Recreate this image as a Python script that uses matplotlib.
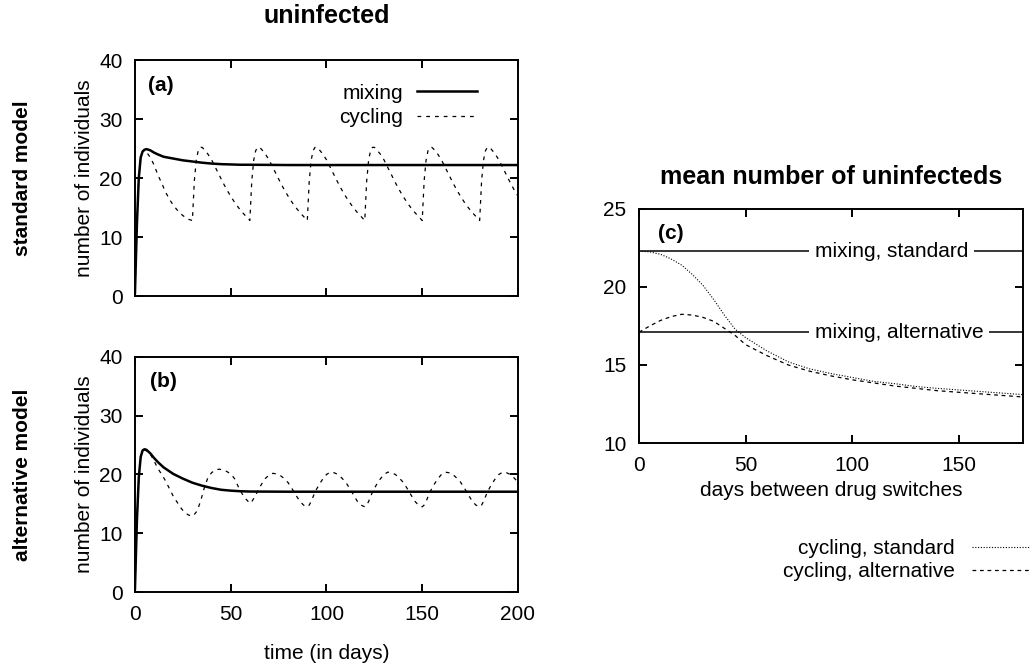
import matplotlib
matplotlib.use('Agg')
import matplotlib.pyplot as plt

plt.rcParams['font.family'] = ['Liberation Sans', 'DejaVu Sans']
plt.rcParams['font.size'] = 15

# --- panels (a)/(b): time courses ---
mix_days = [0, 1, 2, 3, 4, 5, 6, 8, 10, 12, 15, 20, 25, 30, 35, 40, 45, 50,
            55, 60, 80, 100, 150, 200]
mix_std = [0.5, 12.0, 20.0, 23.5, 24.5, 24.8, 24.9, 24.7, 24.3, 24.0, 23.6,
           23.3, 23.0, 22.8, 22.6, 22.45, 22.35, 22.3, 22.25, 22.25, 22.2,
           22.2, 22.2, 22.2]
mix_alt = [0.5, 12.0, 19.5, 23.0, 24.1, 24.3, 24.2, 23.6, 22.8, 22.1, 21.2,
           20.1, 19.3, 18.6, 18.1, 17.7, 17.4, 17.25, 17.15, 17.1, 17.07,
           17.07, 17.07, 17.07]

cyc_days = [0, 1, 2, 3, 4, 5, 6, 8, 10, 12, 14, 16, 18, 20, 22, 24, 26, 28,
            30, 31, 32, 33, 34, 35, 36, 38, 40, 42, 44, 46, 48, 50, 52, 54, 56, 58,
            60, 61, 62, 63, 64, 65, 66, 68, 70, 72, 74, 76, 78, 80, 82, 84, 86, 88,
            90, 91, 92, 93, 94, 95, 96, 98, 100, 102, 104, 106, 108, 110, 112, 114, 116, 118,
            120, 121, 122, 123, 124, 125, 126, 128, 130, 132, 134, 136, 138, 140, 142, 144, 146, 148,
            150, 151, 152, 153, 154, 155, 156, 158, 160, 162, 164, 166, 168, 170, 172, 174, 176, 178,
            180, 181, 182, 183, 184, 185, 186, 188, 190, 192, 194, 196, 198, 200]
cyc_std = [0.5, 12.0, 20.0, 23.5, 24.5, 24.7, 24.4, 23.5, 22.2, 20.5, 19.1, 17.6, 16.4, 15.4, 14.6, 13.9, 13.4, 13.0,
           12.8, 19.5, 23.0, 24.6, 25.2, 25.2, 24.9, 24.1, 23.1, 21.8, 20.5, 19.2, 18.0, 16.9, 15.9, 15.0, 14.2, 13.5,
           12.8, 19.5, 23.0, 24.6, 25.2, 25.2, 24.9, 24.1, 23.1, 21.8, 20.5, 19.2, 18.0, 16.9, 15.9, 15.0, 14.2, 13.5,
           12.8, 19.5, 23.0, 24.6, 25.2, 25.2, 24.9, 24.1, 23.1, 21.8, 20.5, 19.2, 18.0, 16.9, 15.9, 15.0, 14.2, 13.5,
           12.8, 19.5, 23.0, 24.6, 25.2, 25.2, 24.9, 24.1, 23.1, 21.8, 20.5, 19.2, 18.0, 16.9, 15.9, 15.0, 14.2, 13.5,
           12.8, 19.5, 23.0, 24.6, 25.2, 25.2, 24.9, 24.1, 23.1, 21.8, 20.5, 19.2, 18.0, 16.9, 15.9, 15.0, 14.2, 13.5,
           12.8, 19.5, 23.0, 24.6, 25.2, 25.2, 24.9, 24.1, 23.1, 21.8, 20.5, 19.2, 18.0, 16.9]
cyc_alt = [0.5, 12.0, 19.5, 23.0, 24.1, 24.2, 24.0, 23.5, 22.3, 21.0, 20.0, 18.9, 17.6, 16.3, 15.3, 14.3, 13.5, 13.1,
           12.9, 13.2, 13.6, 14.3, 15.2, 16.3, 17.5, 19.4, 20.3, 20.8, 20.9, 20.8, 20.5, 20.1, 19.3, 17.9, 16.7, 15.8,
           15.1, 15.4, 15.9, 16.5, 17.1, 17.7, 18.3, 19.3, 19.9, 20.2, 20.1, 19.8, 19.3, 18.6, 17.6, 16.5, 15.5, 14.8,
           14.5, 14.8, 15.4, 16.2, 17.0, 17.6, 18.2, 19.2, 20.0, 20.4, 20.3, 20.0, 19.4, 18.7, 17.7, 16.6, 15.5, 14.8,
           14.5, 14.8, 15.4, 16.2, 17.0, 17.6, 18.2, 19.2, 20.0, 20.4, 20.3, 20.0, 19.4, 18.7, 17.7, 16.6, 15.5, 14.8,
           14.5, 14.8, 15.4, 16.2, 17.0, 17.6, 18.2, 19.2, 20.0, 20.4, 20.3, 20.0, 19.4, 18.7, 17.7, 16.6, 15.5, 14.8,
           14.5, 14.8, 15.4, 16.2, 17.0, 17.6, 18.2, 19.2, 20.0, 20.4, 20.3, 20.0, 19.4, 18.7]

# --- panel (c): mean number of uninfecteds vs switching period ---
switch_days = [0, 5, 10, 15, 20, 25, 30, 35, 40, 45, 50, 60, 70, 80, 90, 100,
               110, 120, 130, 140, 150, 160, 170, 180]
mean_cyc_std = [22.3, 22.25, 22.1, 21.8, 21.4, 20.8, 20.1, 19.2, 18.2, 17.3,
                16.75, 15.9, 15.2, 14.75, 14.45, 14.2, 13.95, 13.8, 13.62, 13.5,
                13.4, 13.3, 13.2, 13.1]
mean_cyc_alt = [17.1, 17.5, 17.85, 18.1, 18.25, 18.2, 18.05, 17.8, 17.35, 16.9,
                16.3, 15.6, 15.0, 14.6, 14.3, 14.05, 13.85, 13.65, 13.5, 13.35,
                13.25, 13.15, 13.05, 12.95]
mean_mix_std = 22.3
mean_mix_alt = 17.1

fig = plt.figure(figsize=(10.31, 6.70), dpi=100)
ax1 = fig.add_axes([0.1309, 0.5582, 0.3715, 0.3522])
ax2 = fig.add_axes([0.1309, 0.1164, 0.3715, 0.3508])
ax3 = fig.add_axes([0.6198, 0.3388, 0.3725, 0.3493])

for ax in (ax1, ax2, ax3):
    for s in ax.spines.values():
        s.set_linewidth(1.4)
    ax.tick_params(direction='in', length=5.8, width=1.4, top=True, right=True,
                   pad=9, labelsize=15)

dash = (0, (3, 4))

# (a)
ax1.plot(mix_days, mix_std, color='black', lw=1.8, label='mixing')
ax1.plot(cyc_days, cyc_std, color='black', lw=0.9, linestyle=dash, label='cycling')
ax1.set_xlim(0, 200)
ax1.set_ylim(0, 40)
ax1.set_yticks([0, 10, 20, 30, 40])
ax1.set_xticks([0, 50, 100, 150, 200])
ax1.tick_params(labelbottom=False)
ax1.set_ylabel('number of individuals', labelpad=4)
ax1.set_title('uninfected', fontweight='bold', pad=27)
ax1.text(0.033, 0.894, '(a)', transform=ax1.transAxes, fontweight='bold',
         ha='left', va='center')
ax1.legend(loc='upper right', bbox_to_anchor=(477 / 1031, 0.875),
           bbox_transform=fig.transFigure, frameon=False, markerfirst=False,
           handlelength=2.9, handletextpad=0.65, labelspacing=0.25,
           borderpad=0, borderaxespad=0)

# (b)
ax2.plot(mix_days, mix_alt, color='black', lw=1.8)
ax2.plot(cyc_days, cyc_alt, color='black', lw=0.9, linestyle=dash)
ax2.set_xlim(0, 200)
ax2.set_ylim(0, 40)
ax2.set_yticks([0, 10, 20, 30, 40])
ax2.set_xticks([0, 50, 100, 150, 200])
ax2.set_ylabel('number of individuals', labelpad=4)
ax2.set_xlabel('time (in days)', labelpad=15)
ax2.text(0.04, 0.895, '(b)', transform=ax2.transAxes, fontweight='bold',
         ha='left', va='center')

fig.text(0.0223, 0.7343, 'standard model', rotation=90, fontweight='bold',
         ha='center', va='center')
fig.text(0.0223, 0.2918, 'alternative model', rotation=90, fontweight='bold',
         ha='center', va='center')

# (c)
ax3.axhline(mean_mix_std, color='black', lw=1.1)
ax3.axhline(mean_mix_alt, color='black', lw=1.1)
box = dict(facecolor='white', edgecolor='none', pad=4)
ax3.text(82.5, mean_mix_std, 'mixing, standard', ha='left', va='center', bbox=box)
ax3.text(82.5, mean_mix_alt, 'mixing, alternative', ha='left', va='center', bbox=box)
ax3.plot(switch_days, mean_cyc_std, color='black', lw=0.8,
         linestyle=(0, (1, 1.5)), label='cycling, standard')
ax3.plot(switch_days, mean_cyc_alt, color='black', lw=0.9,
         linestyle=(0, (3, 3)), label='cycling, alternative')
ax3.set_xlim(0, 180)
ax3.set_ylim(10, 25)
ax3.set_xticks([0, 50, 100, 150])
ax3.set_yticks([10, 15, 20, 25])
ax3.set_xlabel('days between drug switches', labelpad=5)
ax3.set_title('mean number of uninfecteds', fontweight='bold', pad=18)
ax3.text(0.049, 0.897, '(c)', transform=ax3.transAxes, fontweight='bold',
         ha='left', va='center')
ax3.legend(loc='upper right', bbox_to_anchor=(0.999, 0.1955),
           bbox_transform=fig.transFigure, frameon=False, markerfirst=False,
           handlelength=2.8, handletextpad=0.8, labelspacing=0.2,
           borderpad=0, borderaxespad=0)

fig.savefig('out.png', dpi=100)
